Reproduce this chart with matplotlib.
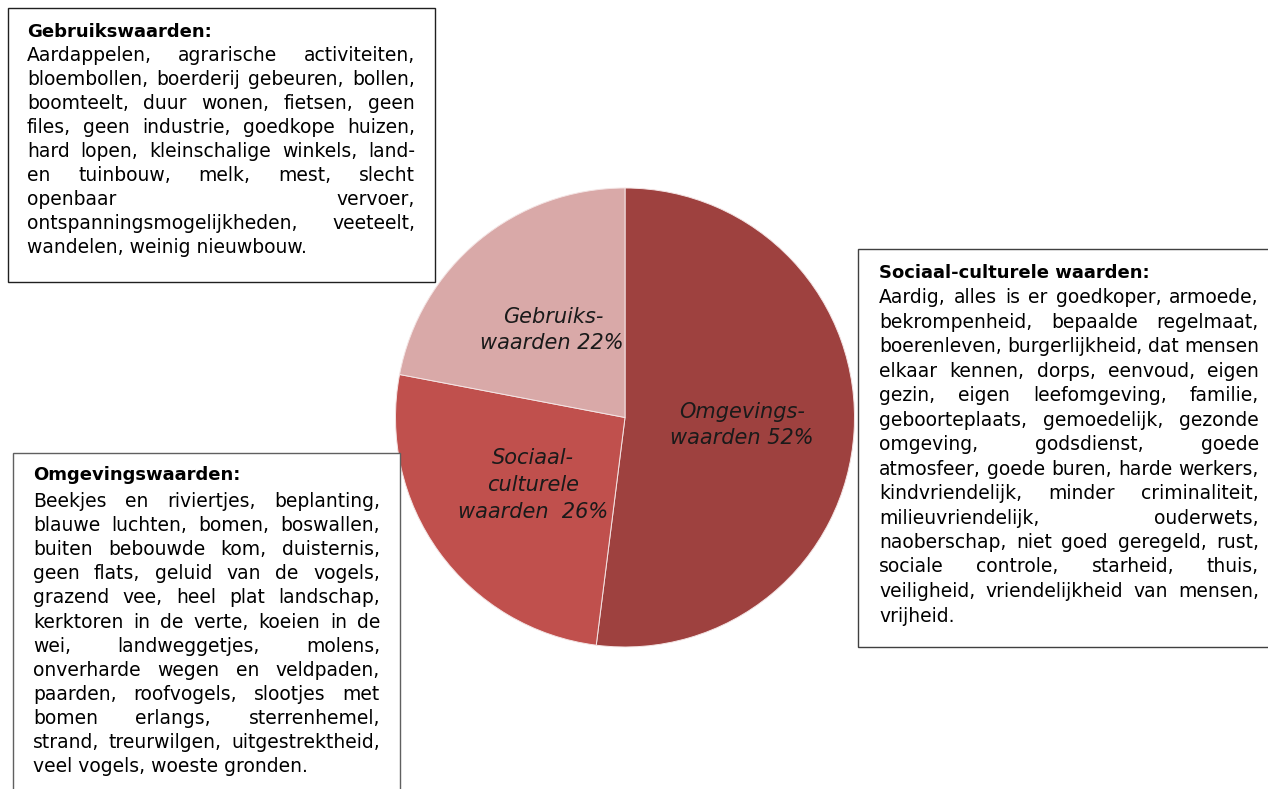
import matplotlib
matplotlib.use('Agg')
import matplotlib.pyplot as plt
from matplotlib.patches import Rectangle

# ---------------- data ----------------
categories = ['Omgevingswaarden', 'Sociaal-culturele waarden', 'Gebruikswaarden']
shares = [52, 26, 22]
slice_colors = ['#9E413F', '#C0504D', '#D9A9A8']
pie_label_lines = [['Omgevings-', 'waarden 52%'],
                   ['Sociaal-', 'culturele', 'waarden  26%'],
                   ['Gebruiks-', 'waarden 22%']]

gebruik_title = 'Gebruikswaarden:'
gebruik_lines = [
    'Aardappelen, agrarische activiteiten,',
    'bloembollen, boerderij gebeuren, bollen,',
    'boomteelt, duur wonen, fietsen, geen',
    'files, geen industrie, goedkope huizen,',
    'hard lopen, kleinschalige winkels, land-',
    'en tuinbouw, melk, mest, slecht',
    'openbaar vervoer,',
    'ontspanningsmogelijkheden, veeteelt,',
    'wandelen, weinig nieuwbouw.',
]

sociaal_title = 'Sociaal-culturele waarden:'
sociaal_lines = [
    'Aardig, alles is er goedkoper, armoede,',
    'bekrompenheid, bepaalde regelmaat,',
    'boerenleven, burgerlijkheid, dat mensen',
    'elkaar kennen, dorps, eenvoud, eigen',
    'gezin, eigen leefomgeving, familie,',
    'geboorteplaats, gemoedelijk, gezonde',
    'omgeving, godsdienst, goede',
    'atmosfeer, goede buren, harde werkers,',
    'kindvriendelijk, minder criminaliteit,',
    'milieuvriendelijk, ouderwets,',
    'naoberschap, niet goed geregeld, rust,',
    'sociale controle, starheid, thuis,',
    'veiligheid, vriendelijkheid van mensen,',
    'vrijheid.',
]

omgeving_title = 'Omgevingswaarden:'
omgeving_lines = [
    'Beekjes en riviertjes, beplanting,',
    'blauwe luchten, bomen, boswallen,',
    'buiten bebouwde kom, duisternis,',
    'geen flats, geluid van de vogels,',
    'grazend vee, heel plat landschap,',
    'kerktoren in de verte, koeien in de',
    'wei, landweggetjes, molens,',
    'onverharde wegen en veldpaden,',
    'paarden, roofvogels, slootjes met',
    'bomen erlangs, sterrenhemel,',
    'strand, treurwilgen, uitgestrektheid,',
    'veel vogels, woeste gronden.',
]

# ---------------- figure ----------------
W, H = 1268, 789
fig = plt.figure(figsize=(W / 100, H / 100), dpi=100)
fig.patch.set_facecolor('white')

# pie axes (pixel box: left 395, top 188, size 459)
pcx, pcy, pr = 625, 417.5, 229.5
axp = fig.add_axes([(pcx - pr) / W, (H - (pcy + pr)) / H, 2 * pr / W, 2 * pr / H])
axp.pie(shares, colors=slice_colors, startangle=90, counterclock=False,
        wedgeprops=dict(edgecolor='#f4e4e4', linewidth=0.7))
axp.set_xlim(-1, 1)
axp.set_ylim(-1, 1)
axp.set_axis_off()
axp.set_zorder(1)

# overlay axes in pixel coordinates
ax = fig.add_axes([0, 0, 1, 1])
ax.set_xlim(0, W)
ax.set_ylim(H, 0)
ax.set_axis_off()
ax.patch.set_visible(False)
ax.set_zorder(2)

FONT = 'DejaVu Sans'
renderer = fig.canvas.get_renderer()


def fit_size(s, target_px, **kw):
    t = ax.text(0, 0, s, fontsize=10, family=FONT, **kw)
    w = t.get_window_extent(renderer).width
    t.remove()
    return 10 * target_px / w


FS = fit_size('veel vogels, woeste gronden.', 274)
FSB = fit_size('Gebruikswaarden:', 186, fontweight='bold')
FSI = fit_size('waarden 22%', 143, style='italic')


def draw_block(x0, x1, title, title_y, lines, y0, pitch):
    ax.text(x0, title_y, title, fontsize=FSB, fontweight='bold', family=FONT,
            ha='left', va='baseline', color='black')
    for i, line in enumerate(lines):
        y = y0 + i * pitch
        words = line.split()
        last = (i == len(lines) - 1)
        if last or len(words) < 2:
            ax.text(x0, y, line, fontsize=FS, family=FONT, ha='left',
                    va='baseline', color='black')
            continue
        ts = [ax.text(0, y, w, fontsize=FS, family=FONT, ha='left',
                      va='baseline', color='black') for w in words]
        ws = [t.get_window_extent(renderer).width for t in ts]
        gap = (x1 - x0 - sum(ws)) / (len(words) - 1)
        x = x0
        for t, w in zip(ts, ws):
            t.set_x(x)
            x += w + gap


def box(x0, y0, x1, y1, ec):
    ax.add_patch(Rectangle((x0, y0), x1 - x0, y1 - y0, facecolor='white',
                           edgecolor=ec, linewidth=1.0, zorder=0.5))


# boxes
box(7.5, 7.5, 435, 282, '#202020')
box(858, 249, 1275, 647, '#404040')
box(13, 453, 400, 800, '#606060')

draw_block(27, 415, gebruik_title, 37, gebruik_lines, 60.5, 24.1)
draw_block(879, 1259, sociaal_title, 277.5, sociaal_lines, 303, 24.5)
draw_block(33, 380, omgeving_title, 480, omgeving_lines, 507, 24.1)

# pie labels (pixel centres of each line)
label_pos = [[(742, 412), (742, 438)],
             [(533, 458), (533, 485), (533, 512)],
             [(553, 317), (552, 343)]]
for lines, poss in zip(pie_label_lines, label_pos):
    for s, (x, y) in zip(lines, poss):
        ax.text(x, y, s, fontsize=FSI, style='italic', family=FONT,
                ha='center', va='center', color='#1a1a1a')

fig.savefig('out.png', dpi=100, facecolor='white')
